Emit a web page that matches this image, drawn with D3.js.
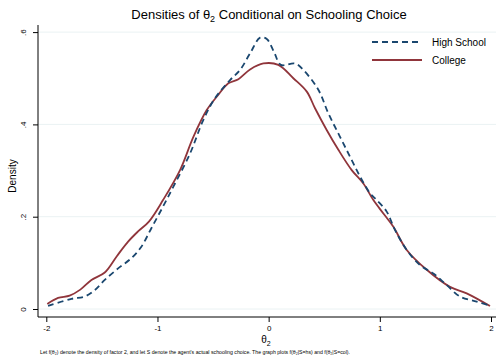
<!DOCTYPE html>
<html>
<head>
<meta charset="utf-8">
<script src="https://cdn.jsdelivr.net/npm/d3@7"></script>
<style>
  html, body { margin: 0; padding: 0; background: #fff; }
  text { font-family: "Liberation Sans", Arial, sans-serif; }
</style>
</head>
<body>
<svg id="chart" width="496" height="360"></svg>
<script>
// values
const xTicks = [-2, -1, 0, 1, 2];
const yTicks = [0, 0.2, 0.4, 0.6];
const yTickLabels = ["0", ".2", ".4", ".6"];

const hsX = [-1.984, -1.774, -1.654, -1.564, -1.474, -1.354, -1.235, -1.145, -1.055, -0.95, -0.857, -0.707, -0.587, -0.482, -0.347, -0.257, -0.167, -0.077, -0.017, 0.05, 0.11, 0.237, 0.312, 0.447, 0.537, 0.642, 0.732, 0.822, 0.912, 0.972, 1.062, 1.137, 1.242, 1.362, 1.481, 1.601, 1.721, 1.871, 1.991];
const hsY = [0.007, 0.022, 0.027, 0.041, 0.063, 0.088, 0.110, 0.135, 0.175, 0.222, 0.265, 0.337, 0.410, 0.457, 0.496, 0.518, 0.554, 0.588, 0.585, 0.556, 0.529, 0.532, 0.518, 0.475, 0.424, 0.373, 0.330, 0.287, 0.251, 0.236, 0.211, 0.171, 0.128, 0.095, 0.077, 0.052, 0.027, 0.016, 0.007];

const colX = [-1.991, -1.894, -1.79, -1.694, -1.594, -1.474, -1.364, -1.264, -1.175, -1.075, -0.95, -0.797, -0.677, -0.557, -0.467, -0.362, -0.272, -0.167, -0.047, 0.087, 0.222, 0.343, 0.417, 0.522, 0.627, 0.747, 0.852, 0.942, 1.032, 1.122, 1.242, 1.422, 1.631, 1.781, 1.991];
const colY = [0.011, 0.024, 0.029, 0.042, 0.063, 0.079, 0.115, 0.146, 0.168, 0.19, 0.236, 0.301, 0.373, 0.431, 0.460, 0.489, 0.498, 0.519, 0.532, 0.529, 0.500, 0.471, 0.435, 0.388, 0.345, 0.301, 0.272, 0.236, 0.207, 0.178, 0.128, 0.085, 0.048, 0.034, 0.0065];

const seriesNames = ["High School", "College"];
const seriesColors = ["#1a476f", "#90353b"];

const svg = d3.select("#chart");

// plot region
const plot = { left: 38, right: 500, top: 25, bottom: 317 };

const x = d3.scaleLinear().domain([-2, 2]).range([46.3, 491]);
const y = d3.scaleLinear().domain([0, 0.6]).range([309, 32.1]);

// grid lines
svg.append("g")
  .selectAll("line")
  .data(yTicks)
  .join("line")
  .attr("x1", plot.left)
  .attr("x2", plot.right)
  .attr("y1", d => y(d))
  .attr("y2", d => y(d))
  .attr("stroke", "#eaf2f3")
  .attr("stroke-width", 1);

// axes
const yAxis = d3.axisLeft(y)
  .tickValues(yTicks)
  .tickFormat((d, i) => yTickLabels[i])
  .tickSize(5)
  .tickSizeOuter(0);

const yg = svg.append("g")
  .attr("transform", `translate(${plot.left},0)`)
  .call(yAxis);
yg.select(".domain").attr("d", `M0,${plot.top}V${plot.bottom}`).attr("stroke", "#000");
yg.selectAll(".tick line").attr("stroke", "#000");
yg.selectAll(".tick text")
  .attr("x", 0)
  .attr("dy", 0)
  .attr("transform", "translate(-12,0) rotate(-90)")
  .attr("text-anchor", "middle")
  .attr("fill", "#000")
  .style("font-size", "8px")
  .style("font-family", "Liberation Sans, Arial, sans-serif");

const xAxis = d3.axisBottom(x)
  .tickValues(xTicks)
  .tickFormat(d3.format("d"))
  .tickSize(5)
  .tickSizeOuter(0);

const xg = svg.append("g")
  .attr("transform", `translate(0,${plot.bottom})`)
  .call(xAxis);
xg.select(".domain").attr("d", `M${plot.left},0H${plot.right}`).attr("stroke", "#000");
xg.selectAll(".tick line").attr("stroke", "#000");
xg.selectAll(".tick text")
  .attr("y", 8)
  .attr("dy", "0.71em")
  .attr("fill", "#000")
  .text(d => d < 0 ? "-" + Math.abs(d) : d)
  .style("font-size", "8px")
  .style("font-family", "Liberation Sans, Arial, sans-serif");

// density lines
const line = d3.line()
  .x(d => x(d[0]))
  .y(d => y(d[1]))
  .curve(d3.curveCatmullRom.alpha(0.5));

const hsData = hsX.map((v, i) => [v, hsY[i]]);
const colData = colX.map((v, i) => [v, colY[i]]);

svg.append("path")
  .attr("d", line(colData))
  .attr("fill", "none")
  .attr("stroke", seriesColors[1])
  .attr("stroke-width", 1.8);

svg.append("path")
  .attr("d", line(hsData))
  .attr("fill", "none")
  .attr("stroke", seriesColors[0])
  .attr("stroke-width", 1.8)
  .attr("stroke-dasharray", "6,4");

// title
svg.append("text")
  .attr("x", 269)
  .attr("y", 19)
  .attr("text-anchor", "middle")
  .style("font-size", "13px")
  .attr("fill", "#000")
  .html('Densities of θ<tspan dy="3" font-size="9px">2</tspan><tspan dy="-3"> Conditional on Schooling Choice</tspan>');

// axis titles
svg.append("text")
  .attr("transform", "translate(16,176) rotate(-90)")
  .attr("text-anchor", "middle")
  .style("font-size", "10px")
  .attr("fill", "#000")
  .text("Density");

svg.append("text")
  .attr("x", 266)
  .attr("y", 343)
  .attr("text-anchor", "middle")
  .style("font-size", "10px")
  .attr("fill", "#000")
  .html('θ<tspan dy="2.5" font-size="7px">2</tspan>');

// note
svg.append("text")
  .attr("x", 40)
  .attr("y", 354)
  .attr("textLength", 310)
  .attr("lengthAdjust", "spacingAndGlyphs")
  .style("font-size", "5.6px")
  .attr("fill", "#000")
  .text("Let f(θ\u2082) denote the density of factor 2, and let S denote the agent's actual schooling choice. The graph plots f(θ\u2082|S=hs) and f(θ\u2082|S=col).");

// legend
const legend = svg.append("g").attr("transform", "translate(372,42)");
legend.selectAll("g.row")
  .data(seriesNames)
  .join("g")
  .attr("class", "row")
  .attr("transform", (d, i) => `translate(0,${i * 18})`)
  .each(function(d, i) {
    const row = d3.select(this);
    row.append("line")
      .attr("x1", 0).attr("x2", 50)
      .attr("y1", 0).attr("y2", 0)
      .attr("stroke", seriesColors[i])
      .attr("stroke-width", 1.8)
      .attr("stroke-dasharray", i === 0 ? "6,4" : null);
    row.append("text")
      .attr("x", 60)
      .attr("y", 0)
      .attr("dy", "0.35em")
      .style("font-size", "10px")
      .attr("fill", "#000")
      .text(d);
  });
</script>
</body>
</html>
